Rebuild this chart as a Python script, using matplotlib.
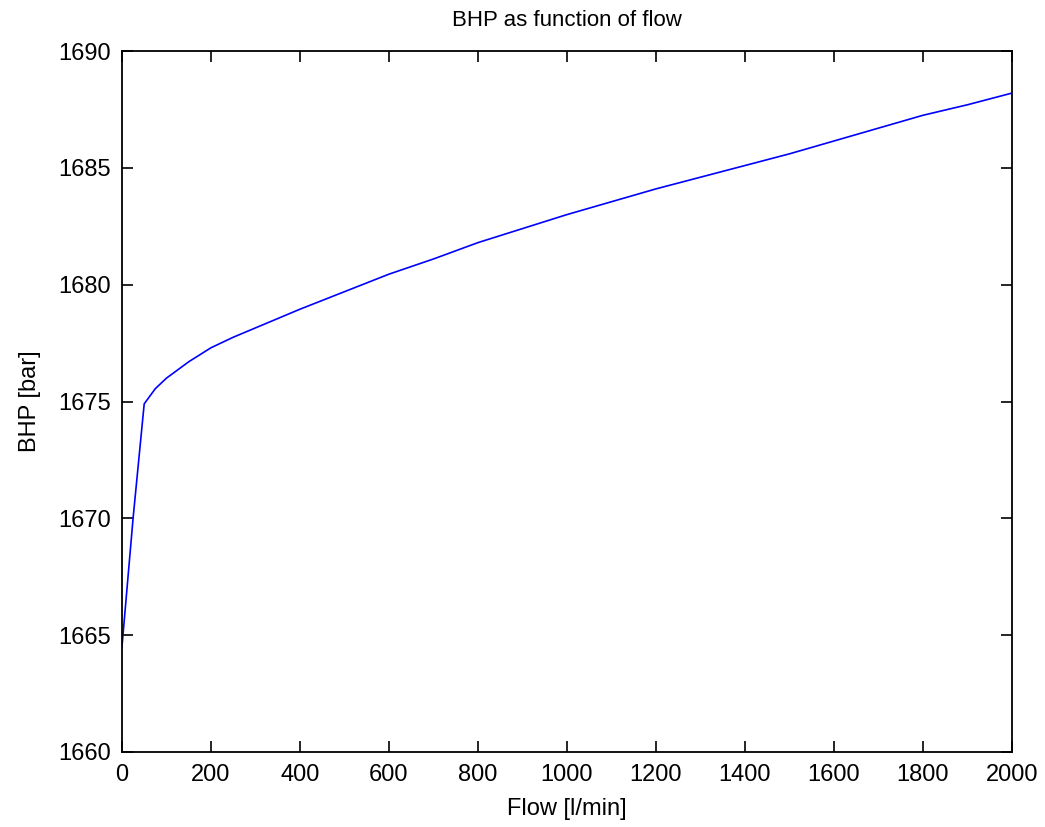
import numpy as np
import matplotlib.pyplot as plt

# BHP values
flow = [0, 25, 50, 75, 100, 150, 200, 250, 300, 400, 500, 600, 700, 800, 900,
        1000, 1100, 1200, 1300, 1400, 1500, 1600, 1700, 1800, 1900, 2000]
bhp = [1664.5, 1670.0, 1674.9, 1675.55, 1676.0, 1676.7, 1677.3, 1677.75,
       1678.15, 1678.95, 1679.7, 1680.45, 1681.1, 1681.8, 1682.4, 1683.0,
       1683.55, 1684.1, 1684.6, 1685.1, 1685.6, 1686.15, 1686.7, 1687.25,
       1687.7, 1688.2]

xticks = [0, 200, 400, 600, 800, 1000, 1200, 1400, 1600, 1800, 2000]
yticks = [1660, 1665, 1670, 1675, 1680, 1685, 1690]

plt.rcParams['font.family'] = ['Liberation Sans', 'DejaVu Sans']

fig = plt.figure(figsize=(10.45, 8.27), dpi=100)
ax = fig.add_axes([0.1167, 0.0907, 0.8517, 0.8476])

ax.plot(flow, bhp, color='#0000ff', linewidth=1.2)

ax.set_xlim(0, 2000)
ax.set_ylim(1660, 1690)
ax.set_xticks(xticks)
ax.set_yticks(yticks)
ax.tick_params(axis='both', direction='in', length=8, width=1.2, labelsize=17,
               top=True, right=True)
ax.tick_params(axis='x', pad=9)
ax.tick_params(axis='y', pad=8)
for s in ax.spines.values():
    s.set_linewidth(1.3)

ax.set_title('BHP as function of flow', fontsize=16, pad=18)
ax.set_xlabel('Flow [l/min]', fontsize=17, labelpad=8)
ax.set_ylabel('BHP [bar]', fontsize=17, labelpad=12)

fig.savefig('out.png', dpi=100)
